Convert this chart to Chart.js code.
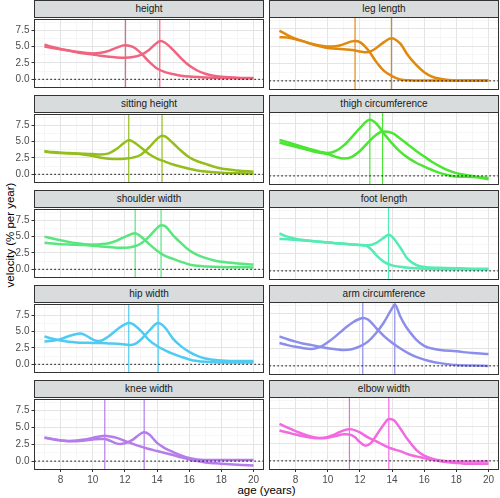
<!DOCTYPE html>
<html>
<head>
<meta charset="utf-8">
<script src="https://cdn.jsdelivr.net/npm/chart.js@4.4.1/dist/chart.umd.min.js"></script>
<style>
  body { margin: 0; background: #fff; font-family: "Liberation Sans", Arial, sans-serif; }
  #wrap { position: relative; width: 500px; height: 498px; overflow: hidden; }
  #wrap canvas { position: absolute; }
  .strip {
    position: absolute; box-sizing: border-box; height: 18px;
    background: #d8dcdd; border: 1px solid #333;
    font-size: 10px; color: #1a1a1a; text-align: center; line-height: 16px;
  }
  .ytitle {
    position: absolute; left: 9.5px; top: 235px; font-size: 11.5px; color: #000;
    white-space: nowrap; transform: translate(-50%, -50%) rotate(-90deg);
  }
  .xtitle {
    position: absolute; left: 266.5px; top: 490px; font-size: 11.5px; color: #000;
    white-space: nowrap; transform: translate(-50%, -50%);
  }
</style>
</head>
<body>
<div id="wrap">
  <div class="ytitle">velocity (% per year)</div>
  <div class="xtitle">age (years)</div>
</div>
<script>
// panels, in facet order (row by row)
const panelNames = ['height', 'leg length', 'sitting height', 'thigh circumference', 'shoulder width',
  'foot length', 'hip width', 'arm circumference', 'knee width', 'elbow width'];
const panelColors = ['#f0647f', '#e0890f', '#93be1c', '#4ce534', '#5ae67e',
  '#55ebb4', '#4fcbf2', '#8c8eec', '#b57dea', '#f26ae0'];

// ages of peak velocity (vertical lines)
const girlsPeak = [12.04, 11.70, 12.24, 12.62, 12.64, null, 12.24, 12.18, 10.75, 11.35];
const boysPeak = [14.17, 13.96, 14.31, 13.41, 14.25, 13.78, 14.07, 14.17, 13.20, 13.80];

const xTicks = [8, 10, 12, 14, 16, 18, 20];
const yTicks = [0, 2.5, 5, 7.5];
const xRange = [6.38, 20.62];
const yRange = [-1.17, 9.22];

// velocity curves, [age, % per year]
const heightGirls = [[7,5.0],[7.5,4.8],[8,4.6],[8.5,4.4],[9,4.2],[9.5,4.05],[10,3.95],[10.5,4.05],[11,4.35],[11.5,4.85],[12,5.2],[12.5,4.95],[13,4.0],[13.5,2.7],[14,1.65],[14.5,1.1],[15,0.8],[15.5,0.55],[16,0.42],[17,0.3],[18,0.22],[19,0.18],[20,0.15]];
const heightBoys = [[7,5.3],[7.5,4.95],[8,4.65],[8.5,4.4],[9,4.15],[9.5,3.95],[10,3.8],[10.5,3.6],[11,3.45],[11.5,3.35],[12,3.3],[12.5,3.4],[13,3.75],[13.5,4.5],[14,5.6],[14.2,5.85],[14.5,5.6],[15,4.5],[15.5,3.2],[16,2.1],[16.5,1.35],[17,0.85],[17.5,0.55],[18,0.4],[19,0.25],[20,0.2]];

const legGirls = [[7,7.25],[7.5,6.6],[8,6.1],[8.5,5.7],[9,5.35],[9.5,5.1],[10,4.95],[10.5,5.0],[11,5.3],[11.5,5.7],[11.7,5.77],[12,5.6],[12.5,4.5],[13,2.8],[13.5,1.45],[14,0.7],[14.5,0.2],[15,0.08],[16,0.05],[18,0.05],[20,0.05]];
const legBoys = [[7,6.3],[7.5,6.25],[8,6.0],[8.5,5.7],[9,5.3],[9.5,5.0],[10,4.75],[10.5,4.65],[11,4.55],[11.5,4.45],[12,4.25],[12.4,4.13],[12.7,4.3],[13,4.7],[13.5,5.6],[13.96,6.15],[14.5,5.4],[15,3.65],[15.5,2.3],[16,1.25],[16.5,0.6],[17,0.3],[17.5,0.12],[18,0.05],[20,0.05]];

const sittingGirls = [[7,3.55],[7.5,3.4],[8,3.3],[8.5,3.25],[9,3.2],[9.5,3.15],[10,3.1],[10.5,3.05],[11,3.2],[11.5,3.9],[12,4.9],[12.24,5.2],[12.5,5.0],[13,4.1],[13.5,3.1],[14,2.4],[14.5,1.95],[15,1.5],[15.5,1.15],[16,0.85],[16.5,0.6],[17,0.45],[18,0.25],[19,0.15],[20,0.1]];
const sittingBoys = [[7,3.45],[7.5,3.35],[8,3.25],[8.5,3.2],[9,3.15],[9.5,3.0],[10,2.8],[10.5,2.55],[11,2.4],[11.5,2.35],[12,2.4],[12.5,2.55],[13,3.0],[13.5,4.1],[14,5.4],[14.31,5.9],[14.5,5.8],[15,4.75],[15.5,3.6],[16,2.6],[16.5,2.0],[17,1.6],[17.5,1.2],[18,0.9],[19,0.6],[20,0.4]];

const thighGirls = [[7,5.2],[7.5,4.85],[8,4.5],[8.5,4.15],[9,3.8],[9.5,3.5],[10,3.3],[10.5,3.6],[11,4.4],[11.5,5.6],[12,6.9],[12.62,8.1],[13,7.6],[13.5,6.1],[14,4.7],[14.5,3.5],[15,2.6],[15.5,1.9],[16,1.35],[16.5,0.85],[17,0.4],[17.5,0.1],[18,-0.1],[19,-0.15],[20,-0.3]];
const thighBoys = [[7,4.8],[7.5,4.5],[8,4.2],[8.5,3.9],[9,3.6],[9.5,3.35],[10,3.15],[10.5,2.75],[11,2.5],[11.5,2.75],[12,3.6],[12.5,4.8],[13,5.9],[13.41,6.4],[14,6.2],[14.5,5.4],[15,4.5],[15.5,3.6],[16,2.8],[16.5,2.0],[17,1.35],[17.5,0.8],[18,0.4],[18.5,0.15],[19,0.0],[19.5,-0.25],[20,-0.5]];

const shoulderGirls = [[7,5.0],[7.5,4.7],[8,4.45],[8.5,4.2],[9,4.0],[9.5,3.85],[10,3.8],[10.5,3.85],[11,4.0],[11.5,4.4],[12,4.95],[12.64,5.5],[13,5.0],[13.5,3.9],[14,2.85],[14.5,2.05],[15,1.6],[15.5,1.15],[16,0.75],[16.5,0.55],[17,0.45],[18,0.35],[19,0.32],[20,0.3]];
const shoulderBoys = [[7,4.05],[7.5,3.95],[8,3.85],[8.5,3.8],[9,3.75],[9.5,3.7],[10,3.6],[10.5,3.5],[11,3.4],[11.5,3.3],[12,3.3],[12.5,3.45],[13,3.95],[13.5,5.0],[14,6.3],[14.25,6.75],[14.5,6.6],[15,5.2],[15.5,4.0],[16,2.9],[16.5,2.2],[17,1.75],[17.5,1.4],[18,1.15],[19,0.9],[20,0.75]];

const footGirls = [[7,5.4],[7.5,4.95],[8,4.65],[8.5,4.45],[9,4.3],[9.5,4.2],[10,4.1],[10.5,4.0],[11,3.9],[11.5,3.8],[12,3.72],[12.4,3.62],[12.75,3.0],[13,2.3],[13.5,1.3],[14,0.8],[14.5,0.6],[15,0.45],[16,0.3],[17,0.25],[18,0.22],[20,0.2]];
const footBoys = [[7,4.6],[7.5,4.55],[8,4.5],[8.5,4.4],[9,4.3],[9.5,4.2],[10,4.1],[10.5,4.0],[11,3.9],[11.5,3.8],[12,3.75],[12.5,3.7],[13,4.0],[13.5,4.8],[13.78,5.2],[14,4.95],[14.5,3.4],[15,1.65],[15.5,0.85],[16,0.55],[17,0.45],[18,0.38],[19,0.32],[20,0.3]];

const hipGirls = [[7,3.5],[7.5,3.6],[8,3.85],[8.5,4.3],[9,4.65],[9.2,4.7],[9.5,4.5],[10,3.8],[10.3,3.55],[10.5,3.6],[11,4.3],[11.5,5.3],[12,6.1],[12.24,6.3],[12.5,6.15],[13,5.1],[13.5,3.7],[14,2.8],[14.5,2.15],[15,1.6],[15.5,1.15],[16,0.75],[16.5,0.5],[17,0.38],[18,0.3],[19,0.3],[20,0.3]];
const hipBoys = [[7,4.25],[7.5,3.9],[8,3.65],[8.5,3.45],[9,3.35],[9.5,3.3],[10,3.28],[10.5,3.25],[11,3.2],[11.5,3.15],[12,3.05],[12.4,2.95],[12.7,3.2],[13,3.8],[13.5,5.1],[14.07,6.3],[14.5,5.6],[15,3.9],[15.5,2.75],[16,1.9],[16.5,1.3],[17,0.9],[17.5,0.7],[18,0.58],[19,0.5],[20,0.5]];

const armGirls = [[7,3.3],[7.5,3.0],[8,2.75],[8.5,2.55],[9,2.45],[9.5,2.7],[10,3.4],[10.5,4.3],[11,5.3],[11.5,6.2],[12,6.8],[12.18,6.9],[12.5,6.7],[13,5.5],[13.5,4.3],[14,3.35],[14.5,2.55],[15,1.85],[15.5,1.3],[16,0.9],[16.5,0.6],[17,0.4],[18,0.12],[19,0.05],[20,0.0]];
const armBoys = [[7,4.25],[7.5,3.85],[8,3.5],[8.5,3.2],[9,3.0],[9.5,2.75],[10,2.55],[10.5,2.4],[11,2.3],[11.5,2.4],[12,2.8],[12.5,3.5],[13,4.7],[13.5,6.3],[14,8.3],[14.17,8.85],[14.5,7.2],[14.75,6.1],[15,5.2],[15.5,3.8],[16,2.9],[16.5,2.5],[17,2.3],[18,2.1],[19,1.85],[20,1.7]];

const kneeGirls = [[7,3.5],[7.5,3.3],[8,3.1],[8.5,3.0],[9,3.05],[9.5,3.2],[10,3.45],[10.5,3.7],[10.75,3.75],[11,3.7],[11.5,3.45],[12,3.0],[12.5,2.55],[13,2.15],[13.5,1.8],[14,1.5],[14.5,1.2],[15,0.9],[15.5,0.55],[16,0.25],[16.5,0.0],[17,-0.2],[17.5,-0.3],[18,-0.4],[19,-0.55],[20,-0.65]];
const kneeBoys = [[7,3.45],[7.5,3.25],[8,3.05],[8.5,2.95],[9,2.95],[9.5,3.05],[10,3.2],[10.5,3.3],[10.75,3.3],[11,3.1],[11.5,2.6],[11.7,2.55],[12,2.65],[12.5,3.2],[13,4.1],[13.2,4.3],[13.5,4.0],[14,2.7],[14.5,1.9],[15,1.35],[15.5,0.85],[16,0.45],[16.5,0.25],[17,0.18],[18,0.15],[19,0.15],[20,0.15]];

const elbowGirls = [[7,5.34],[7.5,4.8],[8,4.3],[8.5,3.85],[9,3.5],[9.5,3.3],[10,3.45],[10.5,3.9],[11,4.4],[11.35,4.57],[11.5,4.55],[12,4.1],[12.5,3.4],[13,2.85],[13.5,2.25],[14,1.75],[14.5,1.4],[15,0.96],[15.5,0.65],[16,0.4],[16.5,0.15],[17,-0.05],[17.5,-0.2],[18,-0.32],[18.5,-0.4],[19,-0.43],[20,-0.43]];
const elbowBoys = [[7,4.38],[7.5,4.1],[8,3.8],[8.5,3.55],[9,3.35],[9.5,3.27],[10,3.35],[10.5,3.6],[11,3.85],[11.35,3.8],[11.7,3.4],[12,2.7],[12.35,2.2],[12.7,2.6],[13,3.6],[13.5,5.3],[13.8,6.05],[14.1,5.9],[14.5,4.7],[15,3.0],[15.5,1.6],[16,0.77],[16.5,0.3],[17,0.05],[18,-0.1],[19,-0.1],[20,-0.05]];

const girlsCurves = [heightGirls, legGirls, sittingGirls, thighGirls, shoulderGirls, footGirls, hipGirls, armGirls, kneeGirls, elbowGirls];
const boysCurves = [heightBoys, legBoys, sittingBoys, thighBoys, shoulderBoys, footBoys, hipBoys, armBoys, kneeBoys, elbowBoys];

// facet geometry
const colLeft = [34.5, 269.5];
const panelW = 229, panelH = 72;
const fontFamily = '"Liberation Sans", Arial, sans-serif';

const panelBox = {
  id: 'panelBox',
  afterDraw(chart) {
    const a = chart.chartArea, ctx = chart.ctx;
    ctx.save();
    ctx.strokeStyle = '#333';
    ctx.lineWidth = 1;
    ctx.strokeRect(Math.floor(a.left) + 0.5, Math.floor(a.top) + 0.5,
      Math.round(a.right - a.left), Math.round(a.bottom - a.top));
    ctx.restore();
  }
};

const pts = pairs => pairs.map(([x, y]) => ({ x, y }));

function drawPanel(i) {
  const col = i % 2, row = Math.floor(i / 2);
  const isLeft = col === 0, isBottom = row === 4;
  const pTop = 17 + 95 * row;
  const pLeft = colLeft[col];
  const color = panelColors[i];

  // strip
  const strip = document.createElement('div');
  strip.className = 'strip';
  strip.textContent = panelNames[i];
  strip.style.left = (pLeft - 0.5) + 'px';
  strip.style.top = (pTop - 17) + 'px';
  strip.style.width = (panelW + 1) + 'px';
  document.getElementById('wrap').appendChild(strip);

  const cLeft = isLeft ? 0 : 265;
  const cWidth = isLeft ? 268 : 235;
  const cTop = pTop - 6;
  const xAxisH = isBottom ? 24 : 0;
  const cHeight = 6 + panelH + (isBottom ? xAxisH : 6);

  const canvas = document.createElement('canvas');
  canvas.width = cWidth;
  canvas.height = cHeight;
  canvas.style.left = cLeft + 'px';
  canvas.style.top = cTop + 'px';
  document.getElementById('wrap').appendChild(canvas);

  const datasets = [
    { data: pts(girlsCurves[i]), borderColor: color, borderWidth: 2.5, cubicInterpolationMode: 'monotone', order: 1 },
    { data: pts(boysCurves[i]), borderColor: color, borderWidth: 2.5, cubicInterpolationMode: 'monotone', order: 1 },
    { data: [{ x: xRange[0], y: 0 }, { x: xRange[1], y: 0 }], borderColor: '#000', borderWidth: 1.1, borderDash: [1.2, 2.8], order: 0 }
  ];
  [girlsPeak[i], boysPeak[i]].forEach(p => {
    if (p == null) return;
    datasets.push({ data: [{ x: p, y: yRange[0] }, { x: p, y: yRange[1] }], borderColor: color, borderWidth: 1.2, order: 2 });
  });
  datasets.forEach(d => { d.pointRadius = 0; d.fill = false; });

  new Chart(canvas, {
    type: 'line',
    data: { datasets },
    plugins: [panelBox],
    options: {
      responsive: false,
      animation: false,
      events: [],
      layout: { padding: { top: 6, bottom: isBottom ? 0 : 6, left: isLeft ? 0 : 4.5, right: isLeft ? 4.5 : 1.5 } },
      plugins: { legend: { display: false }, tooltip: { enabled: false } },
      scales: {
        x: {
          type: 'linear', min: xRange[0], max: xRange[1],
          afterBuildTicks: ax => { ax.ticks = [7,8,9,10,11,12,13,14,15,16,17,18,19,20].map(v => ({ value: v })); },
          afterFit: ax => { ax.height = xAxisH; },
          border: { display: false },
          grid: {
            color: c => xTicks.includes(c.tick.value) ? '#e4e4e4' : '#f0f0f0',
            lineWidth: c => xTicks.includes(c.tick.value) ? 1 : 0.6,
            drawTicks: isBottom, tickLength: 3,
            tickColor: c => xTicks.includes(c.tick.value) ? '#333' : 'rgba(0,0,0,0)'
          },
          ticks: {
            display: isBottom, autoSkip: false, maxRotation: 0, padding: 2,
            color: '#4d4d4d', font: { family: fontFamily, size: 10 },
            callback: v => xTicks.includes(v) ? String(v) : ''
          }
        },
        y: {
          type: 'linear', min: yRange[0], max: yRange[1],
          afterBuildTicks: ax => { ax.ticks = [0,1.25,2.5,3.75,5,6.25,7.5,8.75].map(v => ({ value: v })); },
          afterFit: ax => { ax.width = isLeft ? 34.5 : 0; },
          border: { display: false },
          grid: {
            color: c => yTicks.includes(c.tick.value) ? '#e4e4e4' : '#f0f0f0',
            lineWidth: c => yTicks.includes(c.tick.value) ? 1 : 0.6,
            drawTicks: isLeft, tickLength: 3,
            tickColor: c => yTicks.includes(c.tick.value) ? '#333' : 'rgba(0,0,0,0)'
          },
          ticks: {
            display: isLeft, autoSkip: false, padding: 2,
            color: '#4d4d4d', font: { family: fontFamily, size: 10 },
            callback: v => yTicks.includes(v) ? v.toFixed(1) : ''
          }
        }
      }
    }
  });
}

panelNames.forEach((_, i) => drawPanel(i));
</script>
</body>
</html>
